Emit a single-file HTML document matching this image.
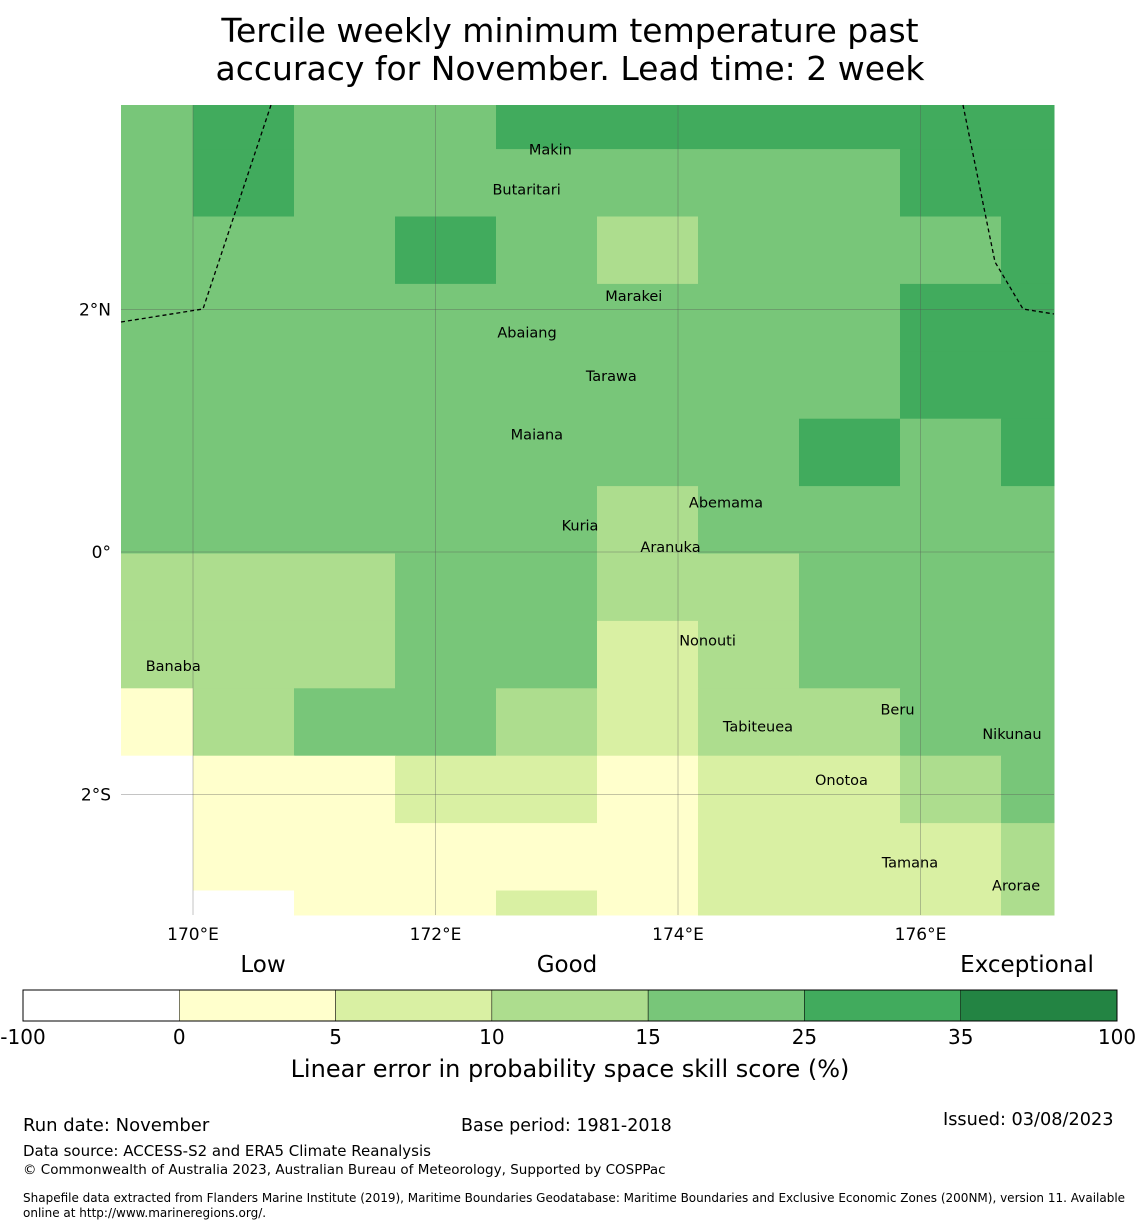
<!DOCTYPE html>
<html><head><meta charset="utf-8">
<style>
body{margin:0;background:#fff;font-family:"DejaVu Sans","Liberation Sans",sans-serif;}
#wrap{position:relative;width:1140px;height:1230px;overflow:hidden;}
.t{position:absolute;white-space:nowrap;color:#000;font-family:"DejaVu Sans","Liberation Sans",sans-serif;}
</style></head><body>
<div id="wrap">
<div class="t" style="left:0;width:1140px;top:12px;text-align:center;font-size:33px;line-height:38px;">Tercile weekly minimum temperature past<br>accuracy for November. Lead time: 2 week</div>
<svg id="map" width="1140" height="1230" style="position:absolute;left:0;top:0"></svg>
<div class="t" style="left:23px;top:1115px;font-size:18px;">Run date: November</div>
<div class="t" style="left:461px;top:1116px;font-size:17.5px;">Base period: 1981-2018</div>
<div class="t" style="left:943px;top:1110px;font-size:17.7px;">Issued: 03/08/2023</div>
<div class="t" style="left:23px;top:1142px;font-size:15px;">Data source: ACCESS-S2 and ERA5 Climate Reanalysis</div>
<div class="t" style="left:23px;top:1162px;font-size:13.5px;">© Commonwealth of Australia 2023, Australian Bureau of Meteorology, Supported by COSPPac</div>
<div class="t" style="left:23px;top:1191px;font-size:12px;line-height:15px;">Shapefile data extracted from Flanders Marine Institute (2019), Maritime Boundaries Geodatabase: Maritime Boundaries and Exclusive Economic Zones (200NM), version 11. Available<br>online at http://www.marineregions.org/.</div>
</div>
<script>
const colors=["#ffffff","#ffffcc","#d9f0a3","#addd8e","#78c679","#41ab5d","#238443"];
const levels=["-100","0","5","10","15","25","35","100"];
const grid=[
[4,5,4,4,5,5,5,5,5,5],
[4,5,4,4,4,4,4,4,5,5],
[4,4,4,5,4,3,4,4,4,5],
[4,4,4,4,4,4,4,4,5,5],
[4,4,4,4,4,4,4,4,5,5],
[4,4,4,4,4,4,4,5,4,5],
[4,4,4,4,4,3,4,4,4,4],
[3,3,3,4,4,3,3,4,4,4],
[3,3,3,4,4,2,3,4,4,4],
[1,3,4,4,3,2,3,3,4,4],
[0,1,1,2,2,1,2,2,3,4],
[0,1,1,1,1,1,2,2,2,3],
[0,0,1,1,2,1,2,2,2,3]];
const lonTicks=[170,172,174,176];
const latTicks=[2,0,-2];
const places=[["Makin",172.77,3.32],["Butaritari",172.47,2.99],["Marakei",173.40,2.11],["Abaiang",172.51,1.81],["Tarawa",173.24,1.45],["Maiana",172.62,0.97],["Abemama",174.09,0.41],["Kuria",173.04,0.22],["Aranuka",173.69,0.04],["Nonouti",174.01,-0.73],["Banaba",169.61,-0.94],["Tabiteuea",174.37,-1.44],["Beru",175.67,-1.30],["Nikunau",176.51,-1.50],["Onotoa",175.13,-1.88],["Tamana",175.68,-2.56],["Arorae",176.59,-2.75]];
const svg=document.getElementById('map');const NS="http://www.w3.org/2000/svg";
const X0=121,X1=1054,Y0=105,Y1=915;
const xs=lon=>193+(lon-170)*121.25;
const ys=lat=>552-lat*121.25;
function mk(t,a){const e=document.createElementNS(NS,t);for(const k in a)e.setAttribute(k,a[k]);svg.appendChild(e);return e;}
const colW=101,rowH=67.4,gx=92,gy=81.7;
grid.forEach((row,r)=>row.forEach((v,c)=>{
 let x=Math.max(X0,gx+c*colW),x2=Math.min(X1,gx+(c+1)*colW);
 let y=Math.max(Y0,gy+r*rowH),y2=Math.min(Y1,gy+(r+1)*rowH);
 const e=mk('rect',{x:x,y:y,width:x2-x+0.5,height:y2-y+0.5,fill:colors[v]});
 
 
}));
lonTicks.forEach(l=>{const e=mk('line',{x1:xs(l),x2:xs(l),y1:Y0,y2:Y1,stroke:'#555','stroke-width':0.5,'stroke-opacity':0.7});

const t=mk('text',{x:xs(l),y:940,'font-size':17,'text-anchor':'middle','font-family':'DejaVu Sans,sans-serif'});t.textContent=l+'°E';
});
latTicks.forEach(l=>{const e=mk('line',{x1:X0,x2:X1,y1:ys(l),y2:ys(l),stroke:'#555','stroke-width':0.5,'stroke-opacity':0.7});

const t=mk('text',{x:111,y:ys(l)+6,'font-size':17,'text-anchor':'end','font-family':'DejaVu Sans,sans-serif'});t.textContent=l==0?'0°':Math.abs(l)+'°'+(l>0?'N':'S');
});
let b1=mk('polyline',{points:"121,322 203,309 271,105",fill:'none',stroke:'#000','stroke-width':1.3,'stroke-dasharray':'4,3'});

let b2=mk('polyline',{points:"963,105 995,262 1023,309 1054,314",fill:'none',stroke:'#000','stroke-width':1.3,'stroke-dasharray':'4,3'});

places.forEach(p=>{const t=mk('text',{x:xs(p[1]),y:ys(p[2])+5,'font-size':14.5,'font-family':'DejaVu Sans,sans-serif'});t.textContent=p[0];
});
const cbX=23,cbW=1094,cbY=990,cbH=31,seg=cbW/7;
for(let i=0;i<7;i++){const e=mk('rect',{x:cbX+i*seg,y:cbY,width:seg,height:cbH,fill:colors[i],stroke:'#000','stroke-width':0.5});
}
mk('rect',{x:cbX,y:cbY,width:cbW,height:cbH,fill:'none',stroke:'#000','stroke-width':1});
levels.forEach((l,i)=>{const t=mk('text',{x:cbX+i*seg,y:1044,'font-size':20,'text-anchor':'middle','font-family':'DejaVu Sans,sans-serif'});t.textContent=l;
});
[["Low",263],["Good",567],["Exceptional",1027]].forEach(c=>{const t=mk('text',{x:c[1],y:972,'font-size':23,'text-anchor':'middle','font-family':'DejaVu Sans,sans-serif'});t.textContent=c[0];
});
const ct=mk('text',{x:570,y:1077,'font-size':24,'text-anchor':'middle','font-family':'DejaVu Sans,sans-serif'});ct.textContent='Linear error in probability space skill score (%)';

</script>
</body></html>
